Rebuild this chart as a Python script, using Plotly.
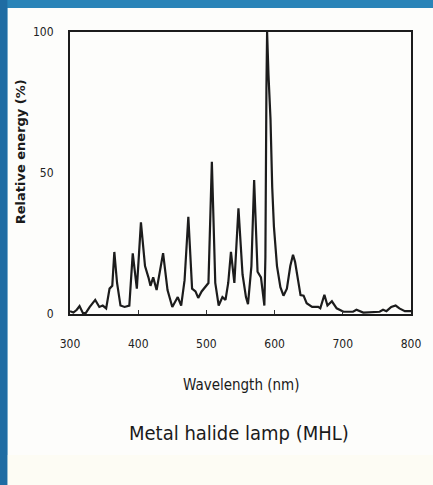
import plotly.graph_objects as go

# Spectral power distribution of a metal halide lamp
wavelength_nm = [300, 305, 310, 314, 319, 323, 329, 337, 343, 348, 353, 358, 362, 365, 369,
                 374, 380, 387, 392, 398, 404, 410, 415, 418, 422, 427, 436.5, 443, 450, 458,
                 463, 468, 473.5, 479, 484, 488, 493, 499, 503, 508, 513, 518, 523.5, 528,
                 532, 536, 541, 547, 553, 558, 561, 566, 570, 575, 580, 585, 586.5, 588, 589,
                 591, 594, 596.5, 599, 603.5, 608.5, 613, 618, 623, 627, 630, 634, 638,
                 642.5, 647, 655, 664, 667, 673, 677.5, 684, 691, 701, 715, 720, 730, 754,
                 759, 764, 771, 777.5, 783, 791, 800]
relative_energy = [1, 0.5, 1.5, 2.8, 0.3, 0.3, 2.5, 5, 2.5, 3, 2, 9, 10, 22, 11,
                   3, 2.5, 3, 21.5, 9, 32.5, 17, 13, 10, 13, 8.5, 21.6, 8.5, 2.5, 6,
                   3, 12, 34.5, 9, 8, 5.7, 8, 9.7, 11, 54, 11, 3, 6, 5,
                   11, 22, 11, 37.5, 14, 6, 3.5, 17, 47.5, 15, 13, 3, 20, 80, 100,
                   85, 69, 45, 31, 17, 9.5, 6.5, 9, 17, 21, 18.5, 12, 6.7,
                   6.5, 3.8, 2.5, 2.5, 2, 6.8, 3, 4.5, 2, 0.8, 0.8, 1.5, 0.5, 0.8,
                   1.5, 1, 2.5, 3, 2, 1, 1]

x_ticks = [300, 400, 500, 600, 700, 800]
y_ticks = [0, 50, 100]

x_title = "Wavelength (nm)"
y_title = "Relative energy (%)"
caption = "Metal halide lamp (MHL)"

W, H = 433, 485
L, R, T, B = 70, 20, 32, 171
pw, ph = W - L - R, H - T - B

def px(xp):
    return (xp - L) / pw

def py(yp):
    return (H - B - yp) / ph

fig = go.Figure()
fig.add_trace(go.Scatter(x=wavelength_nm, y=relative_energy, mode="lines",
                         line=dict(color="#1c1c1c", width=2.2), hoverinfo="x+y",
                         showlegend=False))

tick_font = dict(family="DejaVu Sans Condensed, Liberation Sans Narrow, Arial Narrow, sans-serif",
                 size=12, color="#222")

fig.update_layout(
    width=W, height=H,
    margin=dict(l=L, r=R, t=T, b=B),
    paper_bgcolor="#2a84b8",
    plot_bgcolor="#ffffff",
    xaxis=dict(range=[300, 800], tickvals=x_ticks, ticks="inside", ticklen=4,
               tickcolor="#333", showgrid=False, zeroline=False, showline=True,
               linecolor="#1c1c1c", linewidth=2, mirror=True, tickfont=tick_font,
               ticklabelstandoff=18),
    yaxis=dict(range=[0, 100], tickvals=y_ticks, ticks="", showgrid=False,
               zeroline=False, showline=True, linecolor="#1c1c1c", linewidth=2,
               mirror=True, tickfont=tick_font, ticklabelstandoff=12),
    shapes=[
        dict(type="rect", xref="paper", yref="paper", x0=px(-10), x1=px(W + 10),
             y0=py(H + 10), y1=py(-10), fillcolor="#2a84b8", line_width=0, layer="below"),
        dict(type="rect", xref="paper", yref="paper", x0=px(7), x1=px(W + 10),
             y0=py(H + 10), y1=py(8), fillcolor="#fdfdfb", line_width=0, layer="below"),
        dict(type="rect", xref="paper", yref="paper", x0=px(7), x1=px(W + 10),
             y0=py(H + 10), y1=py(455), fillcolor="#fdfcf4", line_width=0, layer="below"),
        dict(type="rect", xref="paper", yref="paper", x0=px(-10), x1=px(7),
             y0=py(H + 10), y1=py(-10), fillcolor="#1f6ca3", line_width=0, layer="below"),
    ],
    annotations=[
        dict(text=x_title, xref="paper", yref="paper", x=px(242), y=py(385),
             showarrow=False, xanchor="center", yanchor="middle",
             font=dict(family="DejaVu Sans Condensed, Liberation Sans Narrow, sans-serif",
                       size=15, color="#1a1a1a")),
        dict(text=y_title, xref="paper", yref="paper", x=px(20), y=py(152),
             showarrow=False, xanchor="center", yanchor="middle", textangle=-90,
             font=dict(family="DejaVu Sans, sans-serif", size=13, color="#1a1a1a",
                       weight="bold")),
        dict(text=caption, xref="paper", yref="paper", x=px(240), y=py(433),
             showarrow=False, xanchor="center", yanchor="middle",
             font=dict(family="DejaVu Sans Condensed, Liberation Sans Narrow, sans-serif",
                       size=20, color="#1a1a1a")),
    ],
)

fig.write_html(
    "out.html",
    config={"displayModeBar": False},
    post_script="document.body.style.margin='0';document.body.style.padding='0';"
                "document.documentElement.style.overflow='hidden';",
)
